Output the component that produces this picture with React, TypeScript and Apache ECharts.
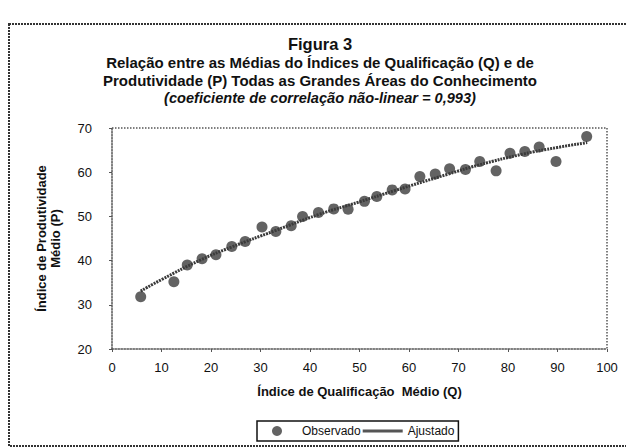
import React, { useEffect, useRef } from "react";
import * as echarts from "echarts";

const observedQ = [5.8, 12.5, 15.2, 18.2, 21.0, 24.2, 26.9, 30.3, 33.1, 36.2, 38.5, 41.7, 44.8, 47.7, 51.0, 53.5, 56.6, 59.2, 62.2, 65.3, 68.2, 71.4, 74.3, 77.6, 80.4, 83.4, 86.3, 89.7, 95.9];
const observedP = [31.8, 35.2, 39.0, 40.4, 41.3, 43.2, 44.3, 47.6, 46.6, 47.9, 50.0, 50.9, 51.7, 51.6, 53.4, 54.5, 56.0, 56.2, 59.0, 59.6, 60.8, 60.6, 62.4, 60.3, 64.3, 64.7, 65.7, 62.4, 68.1];

// Fitted (Ajustado) curve
const fittedQ = [5.8, 10, 18, 24, 33, 41.7, 50, 57, 68, 74, 83, 90, 96];
const fittedP = [33.1, 35.7, 40.2, 43.0, 46.8, 50.4, 53.3, 55.8, 59.6, 61.6, 64.1, 65.6, 66.7];

const xTicks = [0, 10, 20, 30, 40, 50, 60, 70, 80, 90, 100];
const yTicks = [20, 30, 40, 50, 60, 70];

const titleLines = [
  "Figura 3",
  "Relação entre as Médias do Índices de Qualificação (Q) e de",
  "Produtividade (P) Todas as Grandes Áreas do Conhecimento",
  "(coeficiente de correlação não-linear = 0,993)",
];

const FONT = "'Liberation Sans', Arial, sans-serif";

export default function App() {
  const ref = useRef<HTMLDivElement>(null);
  useEffect(() => {
    if (!ref.current) return;
    const chart = echarts.init(ref.current, undefined, { renderer: "svg" });
    const dotted = { color: "#555", type: "dotted" as const, width: 1.5 };
    const xMin = xTicks[0];
    const xMax = xTicks[xTicks.length - 1];
    const yMin = yTicks[0];
    const yMax = yTicks[yTicks.length - 1];
    chart.setOption({
      animation: false,
      backgroundColor: "#fff",
      textStyle: { fontFamily: FONT },
      title: {
        left: 315,
        top: 30,
        textAlign: "center",
        text:
          `{a|${titleLines[0]}}\n{b|${titleLines[1]}}\n{b|${titleLines[2]}}\n{c|${titleLines[3]}}`,
        textStyle: {
          rich: {
            a: { fontFamily: FONT, fontSize: 16.5, fontWeight: "bold", color: "#111", lineHeight: 18, align: "center" },
            b: { fontFamily: FONT, fontSize: 15, fontWeight: "bold", color: "#111", lineHeight: 18, align: "center" },
            c: { fontFamily: FONT, fontSize: 14.6, fontWeight: "bold", fontStyle: "italic", color: "#111", lineHeight: 18, align: "center" },
          },
        },
      },
      legend: {
        left: 257,
        top: 421,
        orient: "horizontal",
        borderColor: "#111",
        borderWidth: 1.5,
        padding: [4, 4, 4, 15],
        itemGap: 2,
        itemWidth: 40,
        itemHeight: 10,
        textStyle: { fontFamily: FONT, fontSize: 12, color: "#111" },
        data: [
          { name: "Observado", icon: "circle", itemStyle: { color: "#3c3c3c" } },
          { name: "Ajustado", icon: "path://M0,0 L40,0 L40,3 L0,3 Z", itemStyle: { color: "#555" } },
        ],
      },
      grid: { left: 112, top: 128, width: 495, height: 221, containLabel: false },
      xAxis: {
        type: "value",
        min: xMin,
        max: xMax,
        interval: 10,
        name: "Índice de Qualificação  Médio (Q)",
        nameLocation: "middle",
        nameGap: 36,
        nameTextStyle: { fontFamily: FONT, fontSize: 13, fontWeight: "bold", color: "#111" },
        axisLine: { onZero: false, lineStyle: dotted },
        axisTick: { show: true, inside: false, length: 3, lineStyle: { color: "#555" } },
        axisLabel: { fontFamily: FONT, fontSize: 13, color: "#111", margin: 12 },
        splitLine: { show: false },
      },
      yAxis: {
        type: "value",
        min: yMin,
        max: yMax,
        interval: 10,
        name: "Índice de Produtividade\nMédio (P)",
        nameLocation: "middle",
        nameRotate: 90,
        nameGap: 50,
        nameTextStyle: { fontFamily: FONT, fontSize: 13, fontWeight: "bold", color: "#111", lineHeight: 14 },
        axisLine: { show: true, onZero: false, lineStyle: dotted },
        axisTick: { show: true, length: 3, lineStyle: { color: "#555" } },
        axisLabel: { fontFamily: FONT, fontSize: 13, color: "#111", margin: 20 },
        splitLine: { show: false },
      },
      series: [
        {
          name: "Ajustado",
          type: "line",
          smooth: true,
          showSymbol: false,
          symbol: "none",
          data: fittedQ.map((q, i) => [q, fittedP[i]]),
          lineStyle: { color: "#3a3a3a", width: 3, type: [2, 1] },
          itemStyle: { color: "#3a3a3a" },
          z: 2,
        },
        {
          name: "Observado",
          type: "scatter",
          symbol: "circle",
          symbolSize: 11,
          data: observedQ.map((q, i) => [q, observedP[i]]),
          itemStyle: { color: "#3c3c3c" },
          z: 3,
        },
      ],
    });
    // plot-area frame (top and right dotted edges) and outer page frame
    const tl = chart.convertToPixel({ gridIndex: 0 }, [xMin, yMax]) as number[];
    const tr = chart.convertToPixel({ gridIndex: 0 }, [xMax, yMax]) as number[];
    const br = chart.convertToPixel({ gridIndex: 0 }, [xMax, yMin]) as number[];
    chart.setOption({
      graphic: [
        {
          type: "rect",
          shape: { x: 9, y: 24, width: 620, height: 422 },
          style: { fill: "none", stroke: "#333", lineWidth: 2, lineDash: [2, 1] },
          silent: true,
        },
        {
          type: "polyline",
          shape: { points: [tl, tr, br] },
          style: { fill: "none", stroke: "#555", lineWidth: 1.5, lineDash: [1.5, 1.5] },
          silent: true,
        },
      ],
    });
    return () => chart.dispose();
  }, []);
  return <div ref={ref} style={{ width: 626, height: 448, position: "absolute", left: 0, top: 0 }} />;
}
